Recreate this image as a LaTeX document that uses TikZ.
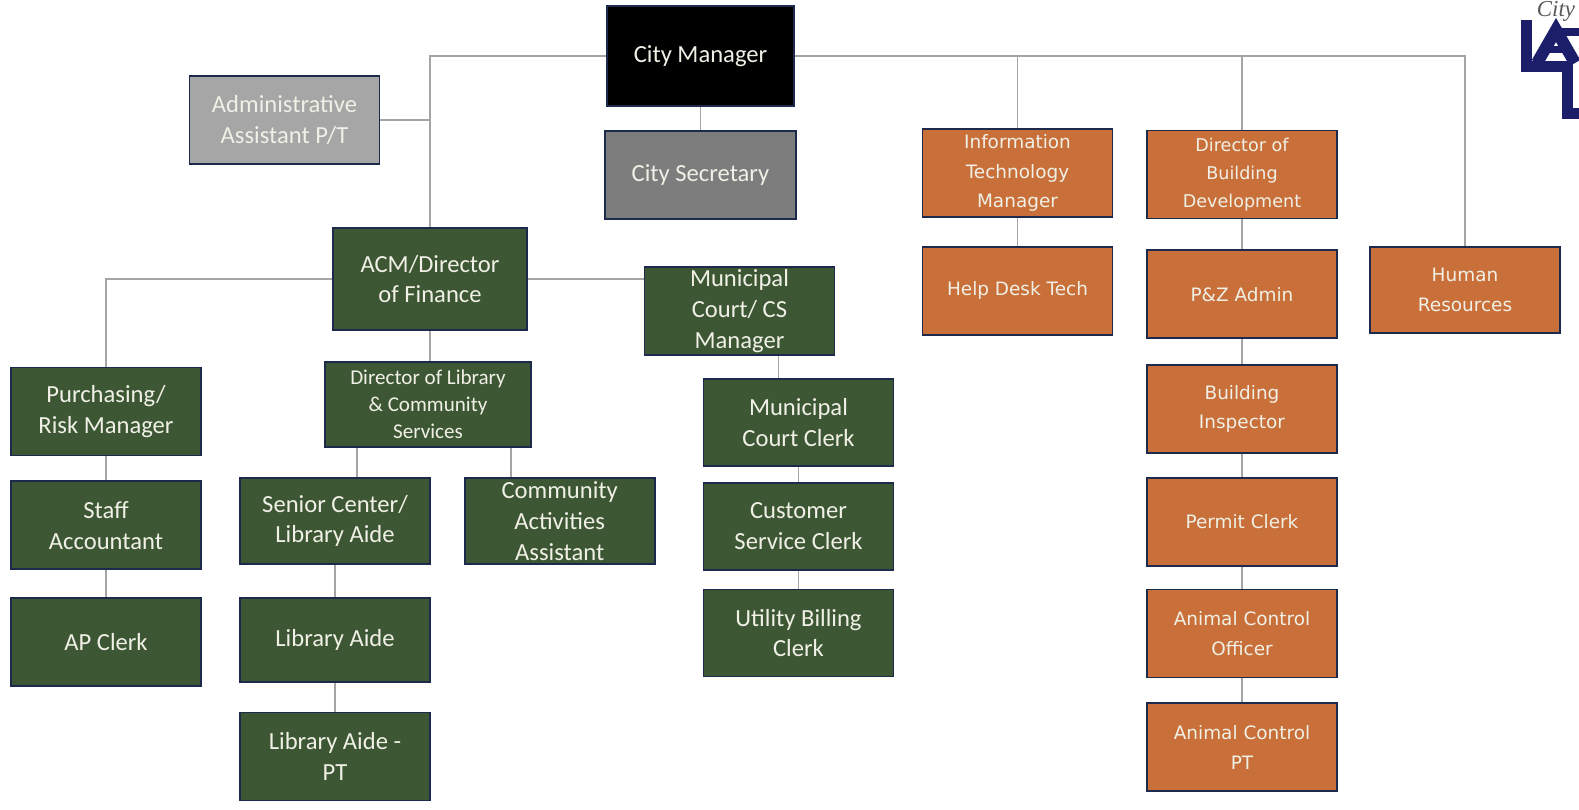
\documentclass[tikz,border=0pt]{standalone}
\usepackage{fontspec}
\setmainfont{Carlito}
\newfontfamily\widefont{DejaVu Sans}
\newfontfamily\logofont{Liberation Serif}
\usetikzlibrary{positioning}

\definecolor{navyline}{RGB}{30,42,75}
\definecolor{linegrey}{RGB}{165,165,165}
\definecolor{boxtext}{RGB}{240,240,230}
\definecolor{supportgrey}{RGB}{166,166,166}
\definecolor{secgrey}{RGB}{125,125,125}
\definecolor{financegreen}{RGB}{61,87,52}
\definecolor{develorange}{RGB}{201,112,58}
\definecolor{logonavy}{RGB}{28,30,105}

\begin{document}
\begin{tikzpicture}[
		x=0.02cm, y=-0.02cm,
		block/.style={rectangle, draw=navyline, line width=1pt, minimum width=3.8cm, minimum height=1.76cm, align=center, text=boxtext, inner sep=1pt, font=\fontsize{14}{17.5}\selectfont},
		chief/.style={block, fill=black},
		support/.style={block, fill=supportgrey},
		secretary/.style={block, fill=secgrey},
		finance/.style={block, fill=financegreen},
		devel/.style={block, fill=develorange, font=\widefont\fontsize{10.5}{17}\selectfont},
		link/.style={draw=linegrey, line width=1.1pt},
		logo/.style={draw=logonavy, line width=0.22cm},
		]
		\fill[white] (0,0) rectangle (1579,810);
		\useasboundingbox (0,0) rectangle (1579,810);

		%Main Nodes
		\node[chief, minimum width=3.74cm, minimum height=2cm]	(manager)	at (700.5,56)	{City Manager};
		\node[secretary, minimum width=3.82cm]	(secretary)	[below=0.46cm of manager]	{City Secretary};
		\node[support]	(admin)		at (284.5,120)	{Administrative\\Assistant P/T};
		\node[finance, minimum width=3.88cm, minimum height=2.04cm]	(acm)	at (430,279)	{ACM/Director\\of Finance};
		\node[finance]	(court_mgr)	at (739.5,311)	{Municipal\\Court/ CS\\Manager};

		%Finance
		\node[finance]	(purch)		at (106,411.5)	{Purchasing/\\Risk Manager};
		\node[finance]	(staff_acct)	[below=0.48cm of purch]	{Staff\\Accountant};
		\node[finance]	(ap_clerk)	[below=0.54cm of staff_acct]	{AP Clerk};

		%Library
		\node[finance, minimum width=4.12cm, minimum height=1.7cm, font=\fontsize{12}{15.5}\selectfont]	(lib_dir)	at (428,404.5)	{Director of Library\\\& Community\\Services};
		\node[finance, minimum height=1.72cm]	(senior)	at (335,521)	{Senior Center/\\Library Aide};
		\node[finance, minimum height=1.72cm]	(comm_act)	[right=0.66cm of senior]	{Community\\Activities\\Assistant};
		\node[finance, minimum height=1.68cm]	(lib_aide)	[below=0.64cm of senior]	{Library Aide};
		\node[finance]	(lib_pt)	[below=0.58cm of lib_aide]	{Library Aide -\\PT};

		%Municipal Court
		\node[finance, minimum height=1.74cm]	(court_clerk)	at (798.5,422.5)	{Municipal\\Court Clerk};
		\node[finance, minimum height=1.74cm]	(cs_clerk)	[below=0.3cm of court_clerk]	{Customer\\Service Clerk};
		\node[finance, minimum height=1.74cm]	(ub_clerk)	[below=0.36cm of cs_clerk]	{Utility Billing\\Clerk};

		%Information Technology
		\node[devel]	(it_mgr)	at (1017.5,173)	{Information\\Technology\\Manager};
		\node[devel]	(help_desk)	[below=0.56cm of it_mgr]	{Help Desk Tech};

		%Building Development
		\node[devel, font=\widefont\fontsize{10}{16}\selectfont]	(bldg_dir)	at (1242,174.5)	{Director of\\Building\\Development};
		\node[devel]	(pz_admin)	[below=0.6cm of bldg_dir]	{P\&Z Admin};
		\node[devel]	(bldg_insp)	[below=0.5cm of pz_admin]	{Building\\Inspector};
		\node[devel]	(permit)	[below=0.46cm of bldg_insp]	{Permit Clerk};
		\node[devel]	(ac_officer)	[below=0.44cm of permit]	{Animal Control\\Officer};
		\node[devel]	(ac_pt)		[below=0.48cm of ac_officer]	{Animal Control\\PT};

		%Human Resources
		\node[devel, minimum height=1.72cm]	(hr)	at (1465,290)	{Human\\Resources};

		%Branch points
		\coordinate	(lib_split1)	at ([xshift=0.44cm]senior.north);
		\coordinate	(lib_split2)	at ([xshift=-0.97cm]comm_act.north);
		\coordinate	(court_split)	at ([xshift=-0.4cm]court_clerk.north);

		%Main Lines
		\draw[link]	(manager.west)	-|	(acm.north);
		\draw[link]	(admin.east)	--	(admin.east -| acm.north);
		\draw[link]	(manager.south)	--	(secretary.north);
		\draw[link]	(manager.east)	-|	(hr.north);
		\draw[link]	(manager.east)	-|	(it_mgr.north);
		\draw[link]	(manager.east)	-|	(bldg_dir.north);

		%Finance Lines
		\draw[link]	(acm.west)	-|	(purch.north);
		\draw[link]	(acm.east)	--	(acm.east -| court_mgr.west);
		\draw[link]	(acm.south)	--	(acm.south |- lib_dir.north);
		\draw[link]	(purch)		--	(staff_acct);
		\draw[link]	(staff_acct)	--	(ap_clerk);
		\draw[link]	(lib_split1)	--	(lib_split1 |- lib_dir.south);
		\draw[link]	(lib_split2)	--	(lib_split2 |- lib_dir.south);
		\draw[link]	(senior)	--	(lib_aide);
		\draw[link]	(lib_aide)	--	(lib_pt);
		\draw[link]	(court_split)	--	(court_split |- court_mgr.south);
		\draw[link]	(court_clerk)	--	(cs_clerk);
		\draw[link]	(cs_clerk)	--	(ub_clerk);

		%Development Lines
		\draw[link]	(it_mgr)	--	(help_desk);
		\draw[link]	(bldg_dir)	--	(pz_admin);
		\draw[link]	(pz_admin)	--	(bldg_insp);
		\draw[link]	(bldg_insp)	--	(permit);
		\draw[link]	(permit)	--	(ac_officer);
		\draw[link]	(ac_officer)	--	(ac_pt);

		%Logo
		\draw[logo]	(1526,20) -- (1526,67) -- (1567,67) -- (1567,114) -- (1582,114);
		\draw[logo, line width=0.24cm, line join=miter]	(1537,63) -- (1556,30) -- (1575,63);
		\draw[logo, line width=0.14cm]	(1545,50) -- (1570,50);
		\draw[logo, line width=0.16cm]	(1556,32) -- (1582,32);
		\node[font=\logofont\itshape\fontsize{13}{13}\selectfont, text=black!65, inner sep=0pt]	(city)	at (1556,11)	{City};
\end{tikzpicture}
\end{document}
